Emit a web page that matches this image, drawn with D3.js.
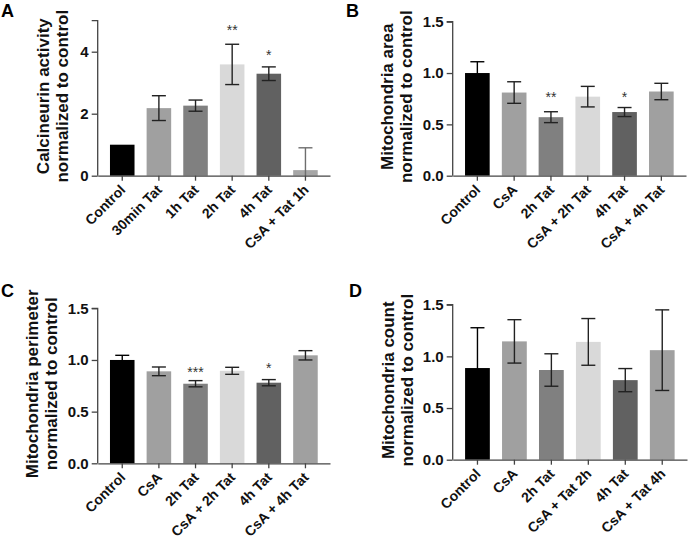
<!DOCTYPE html>
<html><head><meta charset="utf-8">
<script src="https://cdn.jsdelivr.net/npm/d3@7/dist/d3.min.js"></script>
<style>
html,body{margin:0;padding:0;background:#fff;}
svg text{font-family:"Liberation Sans",Arial,Helvetica,sans-serif;}
</style></head>
<body>
<svg id="chart" width="690" height="548"></svg>
<script>
// ---------- DATA ----------
const catsA = ["Control","30min Tat","1h Tat","2h Tat","4h Tat","CsA + Tat 1h"];
const valsA = [1.0, 2.18, 2.26, 3.59, 3.29, 0.18];
const errA  = [0, 0.40, 0.18, 0.65, 0.22, 0.72];
const starsA = ["","","","**","*",""];
const starLevelA = [null,null,null,4.79,4.0,null];
const ticksA = [0,2,4];

const catsB = ["Control","CsA","2h Tat","CsA + 2h Tat","4h Tat","CsA + 4h Tat"];
const valsB = [1.0, 0.81, 0.57, 0.77, 0.62, 0.82];
const errB  = [0.11, 0.105, 0.053, 0.10, 0.044, 0.08];
const starsB = ["","","**","","*",""];
const starLevelB = [null,null,0.80,null,0.80,null];

const catsC = ["Control","CsA","2h Tat","CsA + 2h Tat","4h Tat","CsA + 4h Tat"];
const valsC = [1.0, 0.89, 0.77, 0.895, 0.78, 1.045];
const errC  = [0.045, 0.042, 0.03, 0.034, 0.03, 0.045];
const starsC = ["","","***","","*",""];
const starLevelC = [null,null,0.913,null,0.955,null];

const catsD = ["Control","CsA","2h Tat","CsA + Tat 2h","4h Tat","CsA + Tat 4h"];
const valsD = [0.887, 1.145, 0.868, 1.14, 0.77, 1.06];
const errD  = [0.39, 0.21, 0.157, 0.226, 0.112, 0.39];
const starsD = ["","","","","",""];
const starLevelD = [null,null,null,null,null,null];

const ticksMito = [0, 0.5, 1.0, 1.5];

// ---------- STYLES ----------
const fillsA = ["#000000","#a0a0a0","#808080","#d9d9d9","#616161","#a6a6a6"];
const fillsB = ["#000000","#a0a0a0","#808080","#d9d9d9","#616161","#a0a0a0"];
const errColA = ["#000","#222","#222","#222","#222","#6e6e6e"];
const errColB = ["#000","#222","#222","#222","#222","#222"];

const svg = d3.select("#chart");

function panel(o) {
  const g = svg.append("g");
  const x = d3.scaleBand().domain(o.cats).range([o.x0, o.x1]).paddingInner(0.33).paddingOuter(0.335);
  const y = d3.scaleLinear().domain(o.domain).range([o.yb, o.yt]);
  const axisCol = "#444";

  g.selectAll("rect.bar").data(o.vals).join("rect")
    .attr("x", (d,i)=>x(o.cats[i]))
    .attr("y", d=>y(d))
    .attr("width", x.bandwidth())
    .attr("height", d=>y(0)-y(d))
    .attr("fill", (d,i)=>o.fills[i]);

  const cap = 7;
  o.vals.forEach((v,i)=>{
    const e = o.errs[i];
    if (!e) return;
    const cx = x(o.cats[i]) + x.bandwidth()/2;
    const hi = v + e, lo = Math.max(0, v - e);
    const col = o.errCols[i];
    g.append("line").attr("x1",cx).attr("x2",cx).attr("y1",y(hi)).attr("y2",y(lo))
      .attr("stroke",col).attr("stroke-width",1.4);
    g.append("line").attr("x1",cx-cap).attr("x2",cx+cap).attr("y1",y(hi)).attr("y2",y(hi))
      .attr("stroke",col).attr("stroke-width",1.4);
    if (v - e > 0)
      g.append("line").attr("x1",cx-cap).attr("x2",cx+cap).attr("y1",y(lo)).attr("y2",y(lo))
        .attr("stroke",col).attr("stroke-width",1.4);
  });

  o.stars.forEach((s,i)=>{
    if (!s) return;
    g.append("text")
      .attr("x", x(o.cats[i]) + x.bandwidth()/2)
      .attr("y", y(o.starLevels[i]) + 8)
      .attr("text-anchor","middle")
      .attr("font-size", 14)
      .attr("fill","#333")
      .text(s);
  });

  const ya = g.append("g").attr("transform",`translate(${o.x0},0)`)
    .call(d3.axisLeft(y).tickValues(o.ticks).tickFormat(o.fmt).tickSize(6).tickPadding(3));
  ya.select(".domain").attr("stroke",axisCol).attr("stroke-width",1.3).attr("d",`M-6,${o.yt}H0V${o.yb}`);
  ya.selectAll(".tick line").attr("stroke",axisCol).attr("stroke-width",1.3);
  ya.selectAll(".tick text").attr("font-size",15).attr("font-weight","bold").attr("fill","#111")
    .attr("font-family",'"Liberation Sans",Arial,sans-serif');

  const xa = g.append("g").attr("transform",`translate(0,${o.yb})`)
    .call(d3.axisBottom(x).tickSize(5).tickSizeOuter(0));
  xa.select(".domain").attr("stroke",axisCol).attr("stroke-width",1.3);
  xa.selectAll(".tick line").attr("stroke",axisCol).attr("stroke-width",1.3);
  xa.selectAll(".tick text")
    .attr("font-size",14).attr("font-weight","bold").attr("fill","#111")
    .attr("font-family",'"Liberation Sans",Arial,sans-serif')
    .attr("text-anchor","end")
    .attr("y",0).attr("dy",0)
    .attr("transform","translate(4,15) rotate(-45)");

  const cy = (o.yt + o.yb)/2 - 2;
  const t = g.append("text")
    .attr("transform",`translate(${o.x0 - o.titleOff},${cy}) rotate(-90)`)
    .attr("text-anchor","middle").attr("font-size",17).attr("font-weight","bold").attr("fill","#111");
  t.append("tspan").attr("x",0).attr("y",-19).text(o.title[0]);
  t.append("tspan").attr("x",0).attr("y",0).text(o.title[1]);

  g.append("text").attr("x",o.lx).attr("y",o.ly).attr("font-size",18).attr("font-weight","bold")
    .attr("fill","#000").text(o.letter);
}

const f1 = d3.format(".1f");
panel({cats:catsA, vals:valsA, errs:errA, stars:starsA, starLevels:starLevelA, fills:fillsA, errCols:errColA,
  domain:[0,5], ticks:ticksA, fmt:d3.format("d"), x0:97.7, x1:330, yt:20.7, yb:175.7,
  title:["Calcineurin activity","normalized to control"], titleOff:30, letter:"A", lx:1, ly:17});
panel({cats:catsB, vals:valsB, errs:errB, stars:starsB, starLevels:starLevelB, fills:fillsB, errCols:errColB,
  domain:[0,1.5], ticks:ticksMito, fmt:f1, x0:452.7, x1:686, yt:21.7, yb:175.7,
  title:["Mitochondria area","normalized to control"], titleOff:41, letter:"B", lx:346, ly:17});
panel({cats:catsC, vals:valsC, errs:errC, stars:starsC, starLevels:starLevelC, fills:fillsB, errCols:errColB,
  domain:[0,1.5], ticks:ticksMito, fmt:f1, x0:97.7, x1:330, yt:308.3, yb:463.3,
  title:["Mitochondria perimeter","normalized to control"], titleOff:41, letter:"C", lx:1, ly:297});
panel({cats:catsD, vals:valsD, errs:errD, stars:starsD, starLevels:starLevelD, fills:fillsB, errCols:errColB,
  domain:[0,1.5], ticks:ticksMito, fmt:f1, x0:452.7, x1:687, yt:304.7, yb:459.7,
  title:["Mitochondria count","normalized to control"], titleOff:40, letter:"D", lx:349, ly:297});
</script>
</body></html>
